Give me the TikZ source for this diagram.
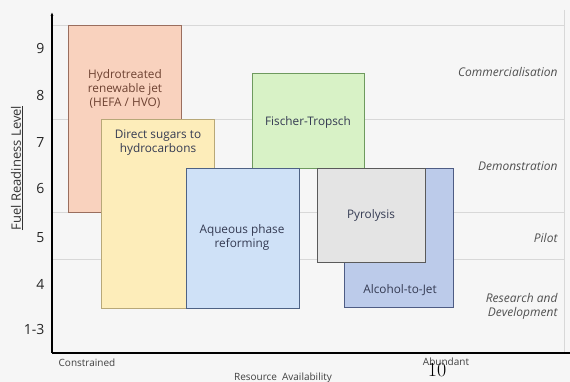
\documentclass[tikz,border=0pt]{standalone}
\usepackage{fontspec}
\usetikzlibrary{arrows.meta}
\setmainfont{Open Sans}
\newfontfamily\lmrfont{Latin Modern Roman}
\definecolor{bgc}{HTML}{F6F6F6}
\definecolor{gridc}{HTML}{D8D8D8}
\definecolor{txtc}{HTML}{343A52}
\definecolor{stagec}{HTML}{505050}
\definecolor{hefaF}{HTML}{F9D2BE}\definecolor{hefaD}{HTML}{9A6E5E}\definecolor{hefaT}{HTML}{6E4232}
\definecolor{sugF}{HTML}{FDEDBA}\definecolor{sugD}{HTML}{B8A878}
\definecolor{ftF}{HTML}{D8F2C6}\definecolor{ftD}{HTML}{6E9A5E}
\definecolor{aqF}{HTML}{CFE1F7}\definecolor{aqD}{HTML}{4E6284}
\definecolor{alF}{HTML}{BCCBEA}\definecolor{alD}{HTML}{4E5C84}
\definecolor{pyF}{HTML}{E4E4E4}\definecolor{pyD}{HTML}{5A5A5A}
\begin{document}
\begin{tikzpicture}[x=1pt,y=-1pt,
  techbox/.style={draw=#1D,fill=#1F,line width=0.9pt},
  techlbl/.style={text=txtc,font=\fontsize{11.8}{14}\selectfont,align=center},
  stagelbl/.style={text=stagec,font=\itshape\fontsize{12}{14}\selectfont,align=right,anchor=east},
  ticklbl/.style={font=\fontsize{14}{16}\selectfont,text=black!85,anchor=east},
  axlbl/.style={font=\fontsize{10}{12}\selectfont,text=black!75},
  gridline/.style={draw=gridc,line width=0.6pt}]
\useasboundingbox (0,0) rectangle (570,382);
\fill[bgc] (0,0) rectangle (570,382);
% grid
\coordinate (g0l) at (52,25); \coordinate (g0r) at (564,25);
\coordinate (g1l) at (52,119); \coordinate (g1r) at (564,119);
\coordinate (g2l) at (52,212); \coordinate (g2r) at (564,212);
\coordinate (g3l) at (52,259); \coordinate (g3r) at (564,259);
\coordinate (vrt) at (564,10); \coordinate (vrb) at (564,353);
\draw[gridline] (g0l) -- (g0r);
\draw[gridline] (g1l) -- (g1r);
\draw[gridline] (g2l) -- (g2r);
\draw[gridline] (g3l) -- (g3r);
\draw[gridline] (vrt) -- (vrb);
% boxes
\draw[techbox=hefa] (68,25) rectangle (181,212);
\node[techlbl,text=hefaT] (hefa) at (125,89) {Hydrotreated\\renewable jet\\(HEFA / HVO)};
\draw[techbox=sug] (101,119) rectangle (214,308);
\node[techlbl] (sug) at (158,143) {Direct sugars to\\hydrocarbons};
\draw[techbox=ft] (252,73) rectangle (364,168);
\node[techlbl] (ft) at (308,122) {Fischer-Tropsch};
\draw[techbox=aq] (186,168) rectangle (299,308);
\node[techlbl] (aq) at (242,237) {Aqueous phase\\reforming};
\draw[techbox=al] (344,168) rectangle (453,307);
\node[techlbl] (al) at (400,290) {Alcohol-to-Jet};
\draw[techbox=py] (317,168) rectangle (425,262);
\node[techlbl] (py) at (371,215) {Pyrolysis};
% axes
\coordinate (orig) at (52,353); \coordinate (ytop) at (52,12); \coordinate (xend) at (570,353);
\draw[line width=1.3pt,-{Latex[length=4pt,width=3pt]}] (orig) -- (ytop);
\draw[line width=1.3pt] (orig) -- (xend);
% ticks
\node[ticklbl] (t9) at (48,49) {9};
\node[ticklbl] (t8) at (48,96) {8};
\node[ticklbl] (t7) at (48,143) {7};
\node[ticklbl] (t6) at (48,188) {6};
\node[ticklbl] (t5) at (48,238) {5};
\node[ticklbl] (t4) at (48,284) {4};
\node[ticklbl] (t13) at (48,329) {1-3};
\node[font=\fontsize{13}{15}\selectfont,text=black!80,rotate=90] (ylab) at (17,168) {\underline{Fuel Readiness Level}};
% stages
\node[stagelbl] (s1) at (561,72) {Commercialisation};
\node[stagelbl] (s2) at (561,166) {Demonstration};
\node[stagelbl] (s3) at (561,238) {Pilot};
\node[stagelbl] (s4) at (561,306) {Research and\\Development};
% axis words
\node[axlbl] (con) at (87,363) {Constrained};
\node[axlbl] (res) at (283,378) {Resource\enspace Availability};
\node[axlbl] (abu) at (446,362) {Abundant};
\node[font=\lmrfont\fontsize{20}{22}\selectfont] (pg) at (437,370) {10};
\end{tikzpicture}
\end{document}
